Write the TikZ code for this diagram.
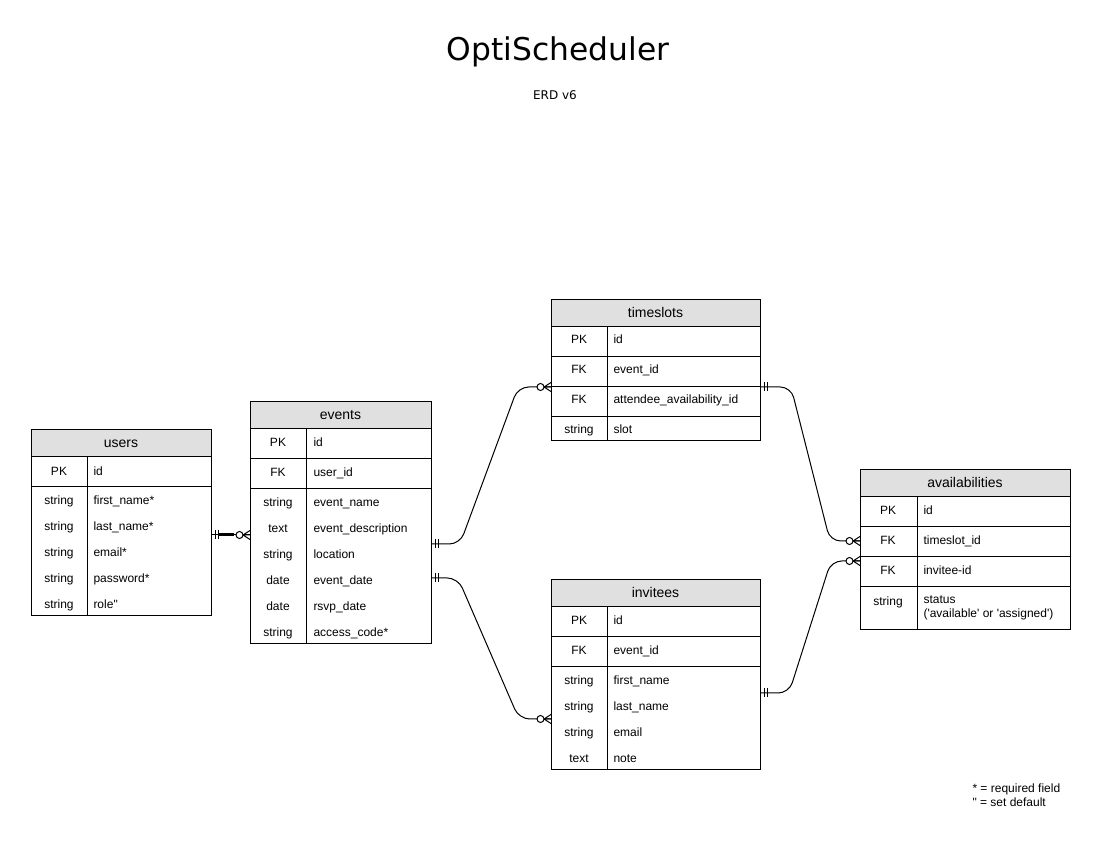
\documentclass[tikz,border=0pt]{standalone}
\usepackage{fontspec}
\setmainfont{Liberation Sans}
\newfontfamily\titlefont{DejaVu Sans}
\usetikzlibrary{calc}
\definecolor{hdrgray}{HTML}{E0E0E0}

\begin{document}
\begin{tikzpicture}[x=0.75pt,y=-0.75pt,line width=0.75pt,
  tbl/.style={draw=black,fill=white},
  hdr/.style={draw=black,fill=hdrgray},
  hname/.style={font=\fontsize{10.5}{12}\selectfont,inner sep=0pt,anchor=mid},
  keytxt/.style={font=\fontsize{9}{11}\selectfont,inner sep=0pt,anchor=mid},
  fldtxt/.style={font=\fontsize{9}{11}\selectfont,inner sep=0pt,anchor=mid west},
  rel/.style={draw=black,rounded corners=8pt},
  pics/onemark/.style={code={\draw (4,-4.5) -- (4,4.5) (7,-4.5) -- (7,4.5);}},
  pics/manymark/.style={code={
    \draw (-7,0) -- (0,0) (-7,0) -- (0,-4.5) (-7,0) -- (0,4.5);
    \filldraw[fill=white] (-10.5,0) circle (3.5);}}]
\useasboundingbox (0,0) rectangle (1101,841);

% title
\node[font=\titlefont\fontsize{23.5}{28}\selectfont] (title) at (558,52) {OptiScheduler};
\node[font=\titlefont\fontsize{9}{11}\selectfont] (subtitle) at (555,95) {ERD v6};

% users
\draw[tbl] (31,430) rectangle (211,616);
\draw[hdr] (31,430) rectangle (211,457);
\draw (31,487) -- (211,487);
\draw (87,457) -- (87,616);
\node[hname] (u-h) at (121,444) {users};
\node[keytxt] (u-k0) at (59,472) {PK};
\node[fldtxt] (u-f0) at (93,472) {id};
\foreach \k/\f [count=\i] in {string/first\_name*,string/last\_name*,string/email*,string/password*,string/role\textquotedbl}
  {\node[keytxt] (u-k\i) at (59,475+26*\i) {\k};
   \node[fldtxt] (u-f\i) at (93,475+26*\i) {\f};}

% events
\draw[tbl] (250,402) rectangle (431,644);
\draw[hdr] (250,402) rectangle (431,429);
\draw (250,459) -- (431,459);
\draw (250,489) -- (431,489);
\draw (306,429) -- (306,644);
\node[hname] (e-h) at (340.5,416) {events};
\node[keytxt] (e-k0) at (278,443) {PK};
\node[fldtxt] (e-f0) at (313,443) {id};
\node[keytxt] (e-kf) at (278,473) {FK};
\node[fldtxt] (e-ff) at (313,473) {user\_id};
\foreach \k/\f [count=\i] in {string/event\_name,text/event\_description,string/location,date/event\_date,date/rsvp\_date,string/access\_code*}
  {\node[keytxt] (e-k\i) at (278,477+26*\i) {\k};
   \node[fldtxt] (e-f\i) at (313,477+26*\i) {\f};}

% timeslots
\draw[tbl] (551,300) rectangle (760,441);
\draw[hdr] (551,300) rectangle (760,327);
\foreach \y in {357,387,417}
  \draw (551,\y) -- (760,\y);
\draw (607,327) -- (607,441);
\node[hname] (t-h) at (655.5,314) {timeslots};
\foreach \k/\f [count=\i] in {PK/id,FK/event\_id,FK/attendee\_availability\_id,string/slot}
  {\node[keytxt] (t-k\i) at (579,310+30*\i) {\k};
   \node[fldtxt] (t-f\i) at (613,310+30*\i) {\f};}

% invitees
\draw[tbl] (551,580) rectangle (760,770);
\draw[hdr] (551,580) rectangle (760,607);
\draw (551,637) -- (760,637);
\draw (551,667) -- (760,667);
\draw (607,607) -- (607,770);
\node[hname] (i-h) at (655.5,594) {invitees};
\node[keytxt] (i-k0) at (579,621) {PK};
\node[fldtxt] (i-f0) at (613,621) {id};
\node[keytxt] (i-kf) at (579,651) {FK};
\node[fldtxt] (i-ff) at (613,651) {event\_id};
\foreach \k/\f [count=\i] in {string/first\_name,string/last\_name,string/email,text/note}
  {\node[keytxt] (i-k\i) at (579,655+26*\i) {\k};
   \node[fldtxt] (i-f\i) at (613,655+26*\i) {\f};}

% availabilities
\draw[tbl] (860,470) rectangle (1070,630);
\draw[hdr] (860,470) rectangle (1070,497);
\foreach \y in {527,557,587}
  \draw (860,\y) -- (1070,\y);
\draw (917,497) -- (917,630);
\node[hname] (a-h) at (965,484) {availabilities};
\foreach \k/\f [count=\i] in {PK/id,FK/timeslot\_id,FK/invitee-id}
  {\node[keytxt] (a-k\i) at (888,481+30*\i) {\k};
   \node[fldtxt] (a-f\i) at (923,481+30*\i) {\f};}
\node[keytxt] (a-k4) at (888,602) {string};
\node[fldtxt] (a-f4) at (923,600) {status};
\node[fldtxt] (a-f5) at (923,614) {(\textquotesingle available\textquotesingle{} or \textquotesingle assigned\textquotesingle)};

% connector ends
\coordinate (u-out) at (211,535);
\coordinate (e-in) at (250,535);
\coordinate (e-out1) at (431,544);
\coordinate (e-out2) at (431,578);
\coordinate (t-in) at (551,387);
\coordinate (t-out) at (760,387);
\coordinate (i-in) at (551,719);
\coordinate (i-out) at (760,693);
\coordinate (a-in1) at (860,541);
\coordinate (a-in2) at (860,561);

% relations
\draw[rel] (u-out) -- (e-in);
\draw[line width=2.25pt] ($(u-out)+(7,0)$) -- ($(e-in)+(-16,0)$);
\draw[rel] (e-out1) -- ($(e-out1)+(29,0)$) -- ($(t-in)+(-33,0)$) -- (t-in);
\draw[rel] (e-out2) -- ($(e-out2)+(27,0)$) -- ($(i-in)+(-32,0)$) -- (i-in);
\draw[rel] (t-out) -- ($(t-out)+(31,0)$) -- ($(a-in1)+(-30,0)$) -- (a-in1);
\draw[rel] (i-out) -- ($(i-out)+(29,0)$) -- ($(a-in2)+(-29,0)$) -- (a-in2);
\pic at (u-out) {onemark};
\pic at (e-in) {manymark};
\pic at (e-out1) {onemark};
\pic at (e-out2) {onemark};
\pic at (t-in) {manymark};
\pic at (i-in) {manymark};
\pic at (t-out) {onemark};
\pic at (i-out) {onemark};
\pic at (a-in1) {manymark};
\pic at (a-in2) {manymark};

% legend
\node[font=\fontsize{9}{11}\selectfont,inner sep=0pt,anchor=mid west] (leg1) at (972,789) {* = required field};
\node[font=\fontsize{9}{11}\selectfont,inner sep=0pt,anchor=mid west] (leg2) at (972,803) {\textquotedbl{} = set default};
\end{tikzpicture}
\end{document}
